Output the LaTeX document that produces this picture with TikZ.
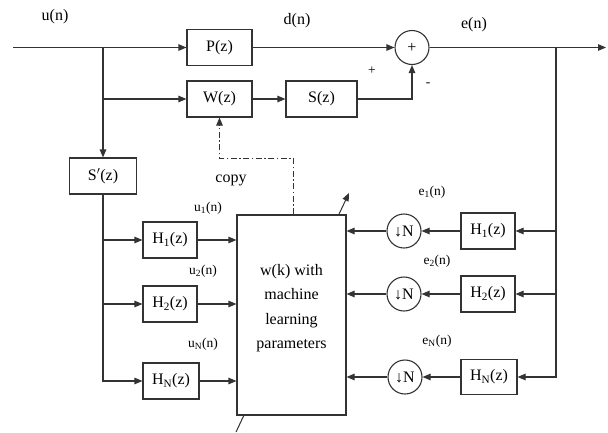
\documentclass[tikz,border=0pt]{standalone}
\usepackage{fontspec}
\setmainfont{Liberation Serif}
\usetikzlibrary{arrows.meta}
\begin{document}
\begin{tikzpicture}[x=1pt,y=-1pt,line width=1.1pt,
  lc/.style={draw=black!80},
  blk/.style={draw=black!80,fill=white,minimum width=54pt,minimum height=36pt,inner sep=0pt,font=\fontsize{16}{18}\selectfont},
  circ/.style={draw=black!80,fill=white,circle,minimum size=34pt,inner sep=0pt,font=\fontsize{16}{18}\selectfont},
  lbl/.style={inner sep=0pt,font=\fontsize{16}{18}\selectfont},
  sm/.style={inner sep=0pt,font=\fontsize{13.5}{15}\selectfont},
  arr/.style={draw=black!80,-{Triangle[length=8pt,width=6.5pt]}},
  dd/.style={dash pattern=on 6pt off 2.5pt on 1.5pt off 2.5pt,line width=1pt}]
\fill[white] (0,0) rectangle (608,432);
\useasboundingbox (0,0) rectangle (608,432);

% labels
\node[lbl] (lu) at (55,17) {u(n)};
\node[lbl] (ld) at (297,21) {d(n)};
\node[lbl] (le) at (474,25) {e(n)};
\node[sm] (lplus) at (372,71) {+};
\node[sm] (lminus) at (428,85) {-};
\node[lbl] (lcopy) at (231,180) {copy};
\node[sm] (lu1) at (208,208) {u\textsubscript{1}(n)};
\node[sm] (lu2) at (203,271) {u\textsubscript{2}(n)};
\node[sm] (luN) at (203,344) {u\textsubscript{N}(n)};
\node[sm] (le1) at (432,192) {e\textsubscript{1}(n)};
\node[sm] (le2) at (437,261) {e\textsubscript{2}(n)};
\node[sm] (leN) at (437,341) {e\textsubscript{N}(n)};

% top blocks
\node[blk,minimum width=65pt] (P) at (219.5,47.5) {P(z)};
\node[blk,minimum width=65pt] (W) at (219.5,99) {W(z)};
\node[blk,minimum width=71pt] (S) at (321.5,99) {S(z)};
\node[blk,minimum width=67pt] (Sp) at (103,176) {S$'$(z)};
\node[circ] (sum) at (412,47.5) {+};

\coordinate (start) at (13,47.5);
\coordinate (out) at (606,47.5);
\coordinate (br1) at (103,47.5);
\coordinate (br2) at (103,99);
\coordinate (rj0) at (556,47.5);

\draw[arr] (start) -- (P.west);
\draw[arr] (P.east) -- (sum.west);
\draw[arr] (sum.east) -- (out);
\draw[arr] (br1) -- (Sp.north);
\draw[arr] (br2) -- (W.west);
\draw[arr] (W.east) -- (S.west);
\draw[arr] (S.east) -| (sum.south);

% adjustable arrow (behind the big block)
\coordinate (adj0) at (236,432);
\coordinate (adj1) at (349,193);
\draw[arr,line width=1pt] (adj0) -- (adj1);

% big block
\node[draw=black!80,fill=white,minimum width=109pt,minimum height=200pt,inner sep=0pt] (ml) at (291.5,315) {};
\node[inner sep=0pt,align=center,font=\fontsize{16}{24.5}\selectfont] (mltext) at (291.5,308) {w(k) with\\machine\\learning\\parameters};

% copy path
\coordinate (c1) at (293,158);
\draw[arr,dd] (ml.north -| c1) -- (c1) -| (W.south);

% left filter bank
\node[blk] (HL1) at (170,240) {H\textsubscript{1}(z)};
\node[blk] (HL2) at (170,304) {H\textsubscript{2}(z)};
\node[blk,minimum width=56pt] (HLN) at (171,381) {H\textsubscript{N}(z)};
\coordinate (lj1) at (103,240);
\coordinate (lj2) at (103,304);
\draw[arr] (Sp.south) |- (HLN.west);
\draw[arr] (lj1) -- (HL1.west);
\draw[arr] (lj2) -- (HL2.west);
\draw[arr] (HL1.east) -- (HL1.east -| ml.west);
\draw[arr] (HL2.east) -- (HL2.east -| ml.west);
\draw[arr] (HLN.east) -- (HLN.east -| ml.west);

% right filter bank
\node[blk] (HR1) at (488,231) {H\textsubscript{1}(z)};
\node[blk] (HR2) at (488,294) {H\textsubscript{2}(z)};
\node[blk,minimum width=56pt,minimum height=35pt] (HRN) at (489,377) {H\textsubscript{N}(z)};
\node[circ] (D1) at (404,231) {↓N};
\node[circ] (D2) at (404,294) {↓N};
\node[circ] (DN) at (405,377) {↓N};
\coordinate (rj1) at (556,231);
\coordinate (rj2) at (556,294);
\draw[arr] (rj0) |- (HRN.east);
\draw[arr] (rj1) -- (HR1.east);
\draw[arr] (rj2) -- (HR2.east);
\draw[arr] (HR1.west) -- (D1.east);
\draw[arr] (HR2.west) -- (D2.east);
\draw[arr] (HRN.west) -- (DN.east);
\draw[arr] (D1.west) -- (D1.west -| ml.east);
\draw[arr] (D2.west) -- (D2.west -| ml.east);
\draw[arr] (DN.west) -- (DN.west -| ml.east);
\end{tikzpicture}
\end{document}
